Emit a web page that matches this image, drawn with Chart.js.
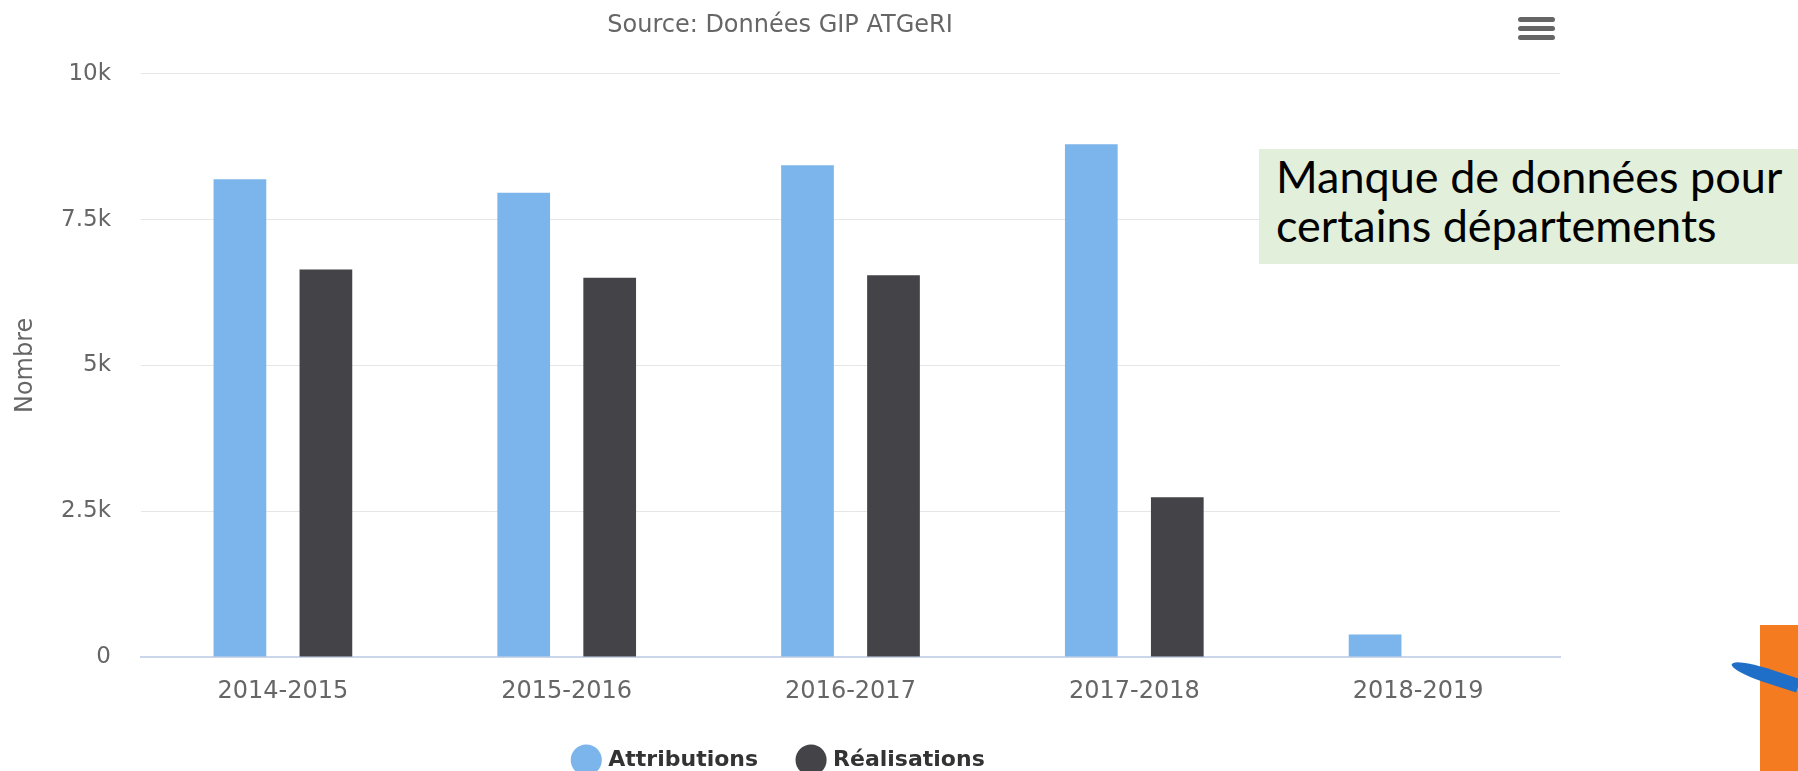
<!DOCTYPE html>
<html>
<head>
<meta charset="utf-8">
<script src="https://cdn.jsdelivr.net/npm/chart.js@4/dist/chart.umd.min.js"></script>
<style>
  body { margin: 0; background: #fff; overflow: hidden; }
  #wrap { position: relative; width: 1798px; height: 771px; }
  #note {
    position: absolute; left: 1259px; top: 149px; width: 539px; height: 115px;
    background: #e2efda; box-sizing: border-box; padding: 3px 0 0 17px;
    font-family: Lato, 'Noto Sans', sans-serif; font-size: 45px; line-height: 49px; color: #000;
    white-space: nowrap; overflow: hidden;
  }
  .bar { position: absolute; left: 1518px; width: 37px; height: 5px; border-radius: 3px; background: #666; }
  #logo { position: absolute; left: 1760px; top: 625px; width: 38px; height: 146px; background: #f47b20; }
  #swoosh { position: absolute; left: 1730px; top: 668px; width: 70px; height: 14px; background: #1f6fc8;
    border-radius: 50% 0 0 50%; transform: rotate(18deg); }
</style>
</head>
<body>
<div id="wrap">
  <canvas id="chart"></canvas>
  <div class="bar" style="top:17px"></div>
  <div class="bar" style="top:26px"></div>
  <div class="bar" style="top:35px"></div>
  <div id="note">Manque de données pour<br>certains départements</div>
  <div id="logo"></div>
  <div id="swoosh"></div>
</div>
<script>
var seasons = ['2014-2015', '2015-2016', '2016-2017', '2017-2018', '2018-2019'];
var attributions = [8190, 7960, 8430, 8790, 385];
var realisations = [6645, 6505, 6545, 2740, 0];
var yTicks = [0, 2500, 5000, 7500, 10000];
var yTickLabels = ['0', '2.5k', '5k', '7.5k', '10k'];

Chart.defaults.font.family = "'DejaVu Sans', sans-serif";
Chart.defaults.color = '#666';

var ctx = document.getElementById('chart').getContext('2d');
var myChart = new Chart(ctx, {
    type: 'bar',
    data: {
        labels: seasons,
        datasets: [{
            label: 'Attributions',
            data: attributions,
            backgroundColor: '#7cb5ec',
            borderWidth: 0
        }, {
            label: 'Réalisations',
            data: realisations,
            backgroundColor: '#434348',
            borderWidth: 0
        }]
    },
    options: {
        responsive: true,
        maintainAspectRatio: false,
        animation: false,
        categoryPercentage: 0.606,
        barPercentage: 0.613,
        layout: { padding: { left: 0, right: 238, top: 0, bottom: -10 } },
        plugins: {
            tooltip: { enabled: false },
            title: {
                display: true,
                text: 'Source: Données GIP ATGeRI',
                color: '#666',
                font: { size: 24, weight: 'normal' },
                padding: { top: 11, bottom: 34 }
            },
            legend: {
                position: 'bottom',
                labels: {
                    usePointStyle: true,
                    pointStyle: 'circle',
                    color: '#333',
                    padding: 42,
                    font: { size: 22, weight: 'bold' }
                }
            }
        },
        scales: {
            x: {
                grid: { display: false },
                border: { display: true, color: '#ccd6eb', width: 2 },
                ticks: { padding: 15, font: { size: 24, lineHeight: 1 } },
                afterFit: function (scale) { scale.height = 50; }
            },
            y: {
                min: 0,
                max: 10000,
                afterBuildTicks: function (scale) {
                    scale.ticks = yTicks.map(function (v) { return { value: v }; });
                },
                ticks: {
                    padding: 30,
                    font: { size: 23 },
                    callback: function (value) {
                        return yTickLabels[yTicks.indexOf(value)];
                    }
                },
                grid: { color: '#e6e6e6', drawTicks: false },
                border: { display: false },
                title: {
                    display: true,
                    text: 'Nombre',
                    color: '#666',
                    font: { size: 24 },
                    padding: { top: 11, bottom: 0 }
                },
                afterFit: function (scale) { scale.width = 141; }
            }
        }
    }
});
</script>
</body>
</html>
